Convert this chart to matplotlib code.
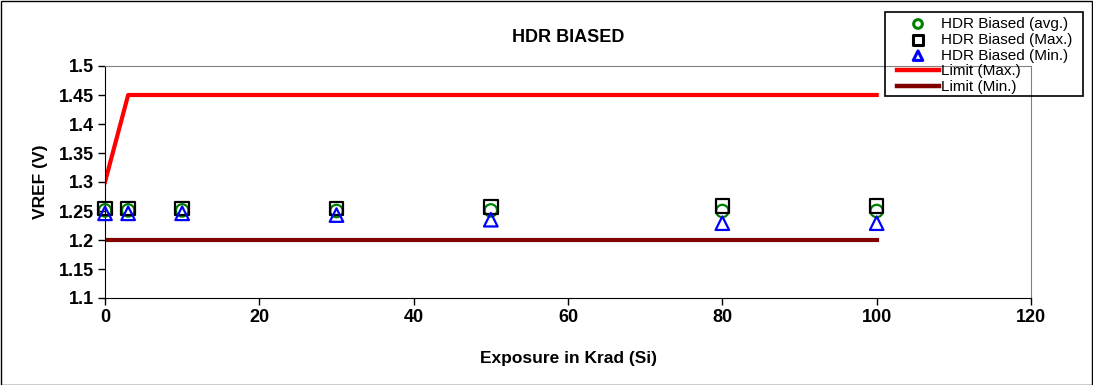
import matplotlib
matplotlib.use("Agg")
import matplotlib.pyplot as plt
from matplotlib.patches import Rectangle
from matplotlib.lines import Line2D

plt.rcParams['font.family'] = ['Liberation Sans', 'DejaVu Sans']

exposure = [0, 3, 10, 30, 50, 80, 100]
vref_avg = [1.251, 1.251, 1.251, 1.250, 1.251, 1.250, 1.250]
vref_max = [1.254, 1.254, 1.254, 1.254, 1.257, 1.259, 1.259]
vref_min = [1.246, 1.246, 1.246, 1.243, 1.235, 1.229, 1.229]
limit_max_x = [0, 3, 100]
limit_max_y = [1.3, 1.45, 1.45]
limit_min_x = [0, 100]
limit_min_y = [1.2, 1.2]
xticks = [0, 20, 40, 60, 80, 100, 120]
yticks = [1.1, 1.15, 1.2, 1.25, 1.3, 1.35, 1.4, 1.45, 1.5]

W, H = 1093, 385
fig = plt.figure(figsize=(W/100, H/100), dpi=100)
ax = fig.add_axes([105/W, 1-298/H, (1031-105)/W, (298-66)/H])

ax.plot(limit_max_x, limit_max_y, color='#ff0000', lw=3, label='Limit (Max.)', zorder=2)
ax.plot(limit_min_x, limit_min_y, color='#800000', lw=3, label='Limit (Min.)', zorder=2)
ax.scatter(exposure, vref_avg, marker='o', s=80, facecolors='none', edgecolors='#008000',
           linewidths=1.6, label='HDR Biased (avg.)', zorder=3, clip_on=False)
ax.scatter(exposure, vref_max, marker='s', s=95, facecolors='none', edgecolors='black',
           linewidths=1.6, label='HDR Biased (Max.)', zorder=3, clip_on=False)
ax.scatter(exposure, vref_min, marker='^', s=95, facecolors='none', edgecolors='#0000ff',
           linewidths=1.6, label='HDR Biased (Min.)', zorder=4, clip_on=False)

ax.set_xlim(0, 120)
ax.set_ylim(1.1, 1.5)
ax.set_xticks(xticks)
ax.set_yticks(yticks)
ax.set_xticklabels([str(v) for v in xticks])
ax.set_yticklabels(['1.1', '1.15', '1.2', '1.25', '1.3', '1.35', '1.4', '1.45', '1.5'])
ax.tick_params(direction='out', length=5, width=1, labelsize=13, pad=3)
for lab in ax.get_xticklabels() + ax.get_yticklabels():
    lab.set_fontweight('bold')
ax.spines['left'].set_color('black')
ax.spines['bottom'].set_color('black')
ax.spines['top'].set_color('#808080')
ax.spines['right'].set_color('#808080')
fig.text(568/W, 1-358/H, 'Exposure in Krad (Si)', ha='center', va='center', fontsize=12.5, fontweight='bold')
fig.text(40/W, 1-182/H, 'VREF (V)', ha='center', va='center', rotation=90, fontsize=12.5, fontweight='bold')
fig.text(568/W, 1-38/H, 'HDR BIASED', ha='center', va='center', fontsize=13, fontweight='bold')

handles, labels = ax.get_legend_handles_labels()
order = [2, 3, 4, 0, 1]
leg = fig.legend([handles[i] for i in order], [labels[i] for i in order],
                 loc='upper left', bbox_to_anchor=(897/W, 1-17/H),
                 fontsize=11, frameon=False, borderpad=0.0,
                 labelspacing=0.12, handlelength=2.75, handletextpad=0.15,
                 borderaxespad=0, markerscale=0.7)
for h in leg.legend_handles:
    if isinstance(h, Line2D):
        h.set_linewidth(3.2)
    else:
        h.set_linewidth(2.2)
fig.patches.append(Rectangle((885/W, 1-96/H), (1083-885)/W, (96-12)/H, transform=fig.transFigure,
                             fill=False, edgecolor='black', lw=1.2))

fig.patches.append(Rectangle((0.5/W, 0.5/H), 1-1.5/W, 1-1.5/H, transform=fig.transFigure,
                             fill=False, edgecolor='black', lw=1))
fig.savefig('out.png', dpi=100)
